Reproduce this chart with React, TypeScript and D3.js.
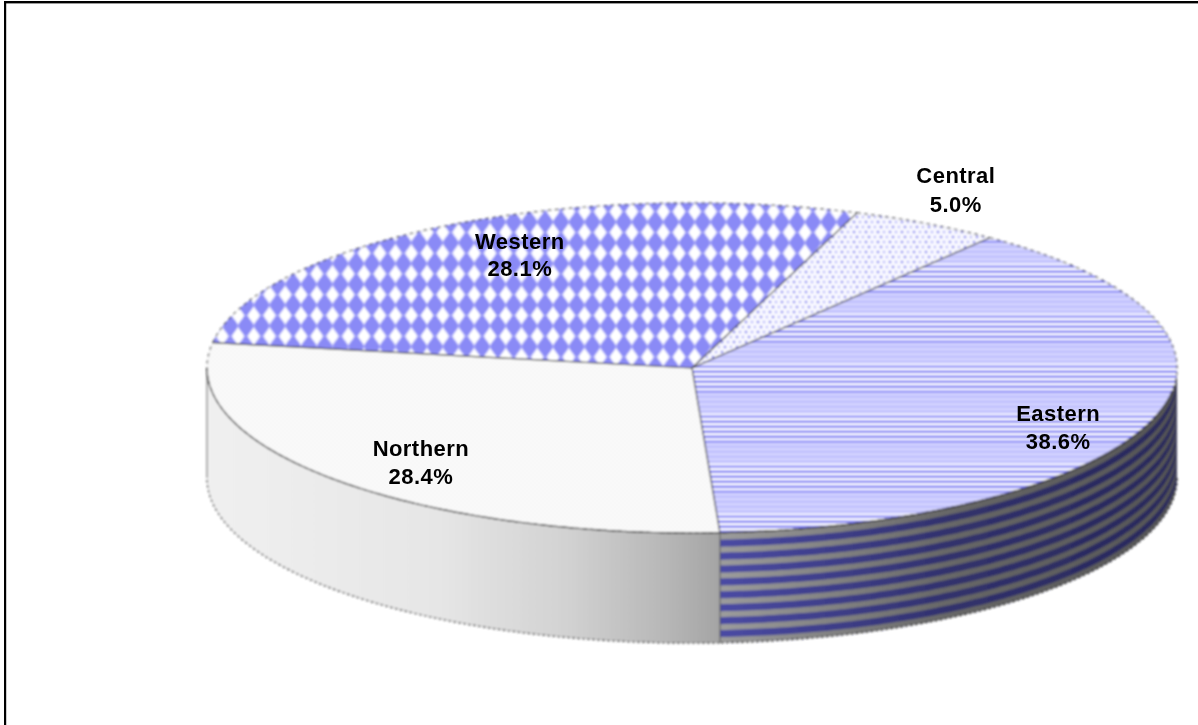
import React from "react";
import * as d3 from "d3";

const categories = ["Northern", "Western", "Central", "Eastern"];
const shares = [28.4, 28.1, 5.0, 38.6];
const labelSpots: [number, number][] = [[-0.559, 0.535], [-0.355, -0.722], [0.544, -1.12], [0.755, 0.32]];
const labelGaps = [28, 27.5, 29, 28];
const stripeBands = d3.range(9);
const hatchStrength = [0.2, 0.2, 0.2, 0.2, 0.75, 1, 1, 1, 1, 0.75];

const W = 1198, H = 725;
const depth = 110;
const deg = Math.PI / 180;
const sx = d3.scaleLinear().domain([-1, 1]).range([207, 1177]);
const sy = d3.scaleLinear().domain([-1, 1]).range([203, 533]);

const slices = d3.pie<number>().sort(null).value(d => d).startAngle(176.7 * deg).endAngle(536.7 * deg)(shares);

const rim = (t: number): [number, number] => [sx(Math.sin(t)), sy(-Math.cos(t))];
const sample = (a: number, b: number) => d3.range(0, 121).map(i => a + ((b - a) * i) / 120);
const line = d3.line();

const topPath = (a: number, b: number) =>
  line([[sx(0), sy(0)], ...sample(a, b).map(rim)]) + "Z";
const bandPath = (a: number, b: number, y0: number, y1: number) => {
  const upper = sample(a, b).map(rim);
  return line([
    ...upper.map(([x, y]) => [x, y + y0] as [number, number]),
    ...[...upper].reverse().map(([x, y]) => [x, y + y1] as [number, number]),
  ]) + "Z";
};
const wallPath = (a: number, b: number) => bandPath(a, b, 0, depth);
const arcPath = (a: number, b: number, dy: number) =>
  line(sample(a, b).map(rim).map(([x, y]) => [x, y + dy] as [number, number])) as string;

const northAngles = [slices[0].startAngle, 270 * deg];
const eastAngles = [450 * deg, slices[3].endAngle];

const fills = ["url(#north)", "url(#west)", "url(#central)", "url(#east)"];

export default function App() {
  return (
    <svg width={W} height={H} viewBox={`0 0 ${W} ${H}`} style={{ position: "absolute", left: 0, top: 0, display: "block", background: "#fff" }}>
      <defs>
        <filter id="soft" x="-5%" y="-5%" width="110%" height="110%">
          <feGaussianBlur stdDeviation="0.8" />
        </filter>
        <filter id="softText" x="-5%" y="-5%" width="110%" height="110%">
          <feGaussianBlur stdDeviation="0.35" />
        </filter>
        <pattern id="north" patternUnits="userSpaceOnUse" width="4" height="4">
          <rect width="4" height="4" fill="#fbfbfb" />
          <rect width="2" height="2" fill="#f6f6f6" />
          <rect x="2" y="2" width="2" height="2" fill="#f6f6f6" />
        </pattern>
        <pattern id="west" patternUnits="userSpaceOnUse" width="15.75" height="20.75" x="655.4" y="201.3">
          <rect width="15.75" height="20.75" fill="#8a8af6" />
          <path d="M7.87,1.2 L14.2,10.37 L7.87,19.55 L1.55,10.37 Z" fill="#ffffff" />
          <rect x="3" y="6.5" width="9.75" height="7.75" rx="2.5" fill="#ffffff" />
          <rect x="0" y="9.7" width="15.75" height="1.3" fill="#ffffff" opacity="0.3" />
          <rect x="7.25" y="0" width="1.3" height="20.75" fill="#ffffff" opacity="0.3" />
        </pattern>
        <pattern id="central" patternUnits="userSpaceOnUse" width="12" height="10">
          <rect width="12" height="10" fill="#f9f9ff" />
          <circle cx="2" cy="2" r="1.3" fill="#7878f0" />
          <circle cx="8" cy="2" r="1.3" fill="#b4b4fa" />
          <circle cx="5" cy="7" r="1.3" fill="#7878f0" />
          <circle cx="11" cy="7" r="1.3" fill="#b4b4fa" />
        </pattern>
        <pattern id="east" patternUnits="userSpaceOnUse" width="50" height="50" y="343">
          <rect width="50" height="50" fill="#ccccff" />
          {hatchStrength.map((o, i) => (
            <g key={i} opacity={o}>
              <rect y={i * 5} width="50" height="2.6" fill="#ffffff" />
              <rect y={i * 5 + 2.6} width="50" height="2.4" fill="#8080f4" />
            </g>
          ))}
        </pattern>
        <linearGradient id="northWall" gradientUnits="userSpaceOnUse" x1={sx(-1)} x2={sx(0.0577)} y1="0" y2="0">
          <stop offset="0" stopColor="#f0f0f0" />
          <stop offset="0.45" stopColor="#e6e6e6" />
          <stop offset="0.7" stopColor="#d2d2d2" />
          <stop offset="0.9" stopColor="#b6b6b6" />
          <stop offset="1" stopColor="#a4a4a4" />
        </linearGradient>
        <linearGradient id="eastShade" gradientUnits="userSpaceOnUse" x1={sx(0.0577)} x2={sx(1)} y1="0" y2="0">
          <stop offset="0" stopColor="#000" stopOpacity="0" />
          <stop offset="0.5" stopColor="#000" stopOpacity="0.34" />
          <stop offset="1" stopColor="#000" stopOpacity="0.45" />
        </linearGradient>
        <clipPath id="eastClip">
          <path d={wallPath(eastAngles[0], eastAngles[1])} />
        </clipPath>
      </defs>

      <rect x="4" y="1" width={W} height="2.4" fill="#000" />
      <rect x="4" y="1" width="2.2" height={H} fill="#000" />

      <g filter="url(#soft)">
        <path d={wallPath(northAngles[0], northAngles[1])} fill="url(#northWall)" />
        <path d={arcPath(northAngles[0], northAngles[1], depth)} fill="none" stroke="#333" strokeWidth="1.2" strokeDasharray="3 2" />
        <line x1={sx(-1)} x2={sx(-1)} y1={sy(0)} y2={sy(0) + depth} stroke="#555" strokeWidth="1" />
        <g clipPath="url(#eastClip)">
          <path d={wallPath(eastAngles[0], eastAngles[1])} fill="#9c9c9c" />
          {stripeBands.map(k => (
            <path key={k} d={bandPath(eastAngles[0], eastAngles[1], 7 + k * 12.9, 14 + k * 12.9)} fill="#4a4aa4" />
          ))}
          <path d={wallPath(eastAngles[0], eastAngles[1])} fill="url(#eastShade)" />
        </g>
        <path d={arcPath(eastAngles[0], eastAngles[1], depth)} fill="none" stroke="#111" strokeWidth="1.2" strokeDasharray="3 2" />
        <line x1={sx(0.0577)} x2={sx(0.0577)} y1={rim(slices[0].startAngle)[1]} y2={rim(slices[0].startAngle)[1] + depth} stroke="#555" strokeWidth="1" />
        {slices.map((s, i) => (
          <path key={categories[i]} d={topPath(s.startAngle, s.endAngle)} fill={fills[i]} />
        ))}
        {slices.map((s, i) => (
          <g key={categories[i]} fill="none">
            <path d={line([[sx(0), sy(0)], rim(s.startAngle)]) as string} stroke="#333" strokeWidth="1.2" />
            <path d={arcPath(s.startAngle, s.endAngle, 0)} stroke="#444" strokeWidth="1.1" strokeDasharray="4 3" />
          </g>
        ))}
        <path d={arcPath(slices[3].startAngle + 60 * deg, slices[3].endAngle, 0)} fill="none" stroke="#222" strokeWidth="1.2" />
        <path d={arcPath(northAngles[0], northAngles[1], 0)} fill="none" stroke="#333" strokeWidth="1.2" />
      </g>

      <g filter="url(#softText)" fontFamily="'Liberation Sans', Arial, sans-serif" fontWeight="700" fontSize="22" letterSpacing="0.45" fill="#000" textAnchor="middle">
        {slices.map((s, i) => (
          <g key={categories[i]}>
            <text x={sx(labelSpots[i][0])} y={sy(labelSpots[i][1])}>{categories[i]}</text>
            <text x={sx(labelSpots[i][0])} y={sy(labelSpots[i][1]) + labelGaps[i]}>{shares[i].toFixed(1)}%</text>
          </g>
        ))}
      </g>
    </svg>
  );
}
